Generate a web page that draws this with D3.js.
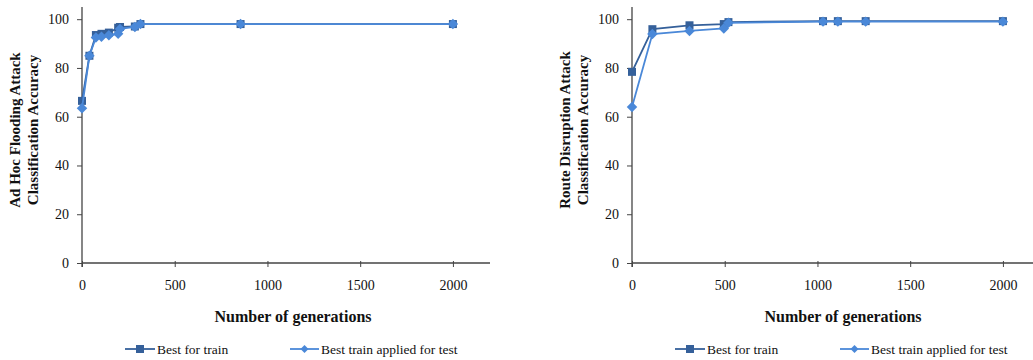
<!DOCTYPE html>
<html>
<head>
<meta charset="utf-8">
<script src="https://cdn.jsdelivr.net/npm/d3@7"></script>
<style>
  html, body { margin: 0; padding: 0; background: #fff; }
  svg { display: block; }
</style>
</head>
<body>
<svg id="chart" width="1033" height="360"></svg>
<script>
// Ad hoc flooding attack: accuracy vs. number of generations
const floodGenerations = [0, 40, 75, 105, 145, 195, 205, 285, 315, 855, 2000];
const floodTrain       = [66.5, 85, 93.5, 94, 94.5, 96.5, 96.8, 97, 98, 98, 98];
const floodTest        = [63.5, 85, 92.5, 92.8, 93.4, 94, 96, 96.8, 98, 98, 98];

// Route disruption attack: accuracy vs. number of generations
const routeGenerations = [0, 110, 310, 495, 520, 1030, 1110, 1260, 2000];
const routeTrain       = [78.4, 95.9, 97.5, 98, 98.8, 99.2, 99.2, 99.2, 99.2];
const routeTest        = [64, 93.9, 95.2, 96.2, 98.5, 99, 99, 99, 99];

const xTicks = [0, 500, 1000, 1500, 2000];
const yTicks = [0, 20, 40, 60, 80, 100];
const seriesNames = ["Best for train", "Best train applied for test"];

const trainColor = "#35609a";
const testColor = "#4a88d8";
const axisColor = "#444";

const svg = d3.select("#chart");

// pick the first installed serif face by comparing rendered widths
function pickSerif() {
  const candidates = ["Liberation Serif", "Times New Roman", "Tinos", "Times", "DejaVu Serif", "Noto Serif"];
  const probe = svg.append("text").attr("font-size", 40).text("mmmwwwiiilllQQ0123");
  const width = f => { probe.attr("font-family", f); return probe.node().getComputedTextLength(); };
  const baseMono = width("monospace"), baseSans = width("sans-serif");
  let found = null;
  for (const c of candidates) {
    if (width(`"${c}", monospace`) !== baseMono || width(`"${c}", sans-serif`) !== baseSans) { found = c; break; }
  }
  probe.remove();
  return found ? `"${found}", serif` : "serif";
}
const serif = pickSerif();

function drawPanel(offsetX, titleLines, gens, train, test) {
  const left = 82 + offsetX, right = 490 + offsetX;
  const top = 7, bottom = 263;
  const g = svg.append("g").attr("font-family", serif).attr("fill", "#111");

  const x = d3.scaleLinear().domain([0, 2200]).range([left, right]);
  const y = d3.scaleLinear().domain([0, 105]).range([bottom, top]);

  // x axis
  const xAxis = g.append("g")
    .attr("transform", `translate(0,${bottom})`)
    .call(d3.axisBottom(x).tickValues(xTicks).tickSize(4).tickPadding(13).tickFormat(d3.format("d")));
  xAxis.attr("font-family", serif).attr("font-size", 14);
  xAxis.select(".domain").attr("stroke", axisColor).attr("stroke-width", 1.3)
    .attr("d", `M${left},0H${right}`);
  xAxis.selectAll(".tick line").attr("stroke", axisColor).attr("y1", -2).attr("y2", 4);
  xAxis.selectAll(".tick text").attr("fill", "#111");

  // y axis
  const yAxis = g.append("g")
    .attr("transform", `translate(${left},0)`)
    .call(d3.axisLeft(y).tickValues(yTicks).tickSize(5).tickPadding(8));
  yAxis.attr("font-family", serif).attr("font-size", 14);
  yAxis.select(".domain").attr("stroke", axisColor).attr("stroke-width", 1.3)
    .attr("d", `M0,${top}V${bottom + 4}`);
  yAxis.selectAll(".tick line").attr("stroke", axisColor);
  yAxis.selectAll(".tick text").attr("fill", "#111");

  // y title (two lines, rotated)
  const yt = g.append("text")
    .attr("transform", `translate(${20 + offsetX},${130}) rotate(-90)`)
    .attr("text-anchor", "middle")
    .attr("font-size", 15).attr("font-weight", "bold");
  yt.append("tspan").attr("x", 0).attr("dy", 0).text(titleLines[0]);
  yt.append("tspan").attr("x", 0).attr("dy", 18).text(titleLines[1]);

  // x title
  g.append("text")
    .attr("x", (left + right) / 2 + 7).attr("y", 322)
    .attr("text-anchor", "middle")
    .attr("font-size", 16).attr("font-weight", "bold")
    .text("Number of generations");

  const line = d3.line().x(d => x(d[0])).y(d => y(d[1]));
  const trainPts = gens.map((v, i) => [v, train[i]]);
  const testPts = gens.map((v, i) => [v, test[i]]);

  // training series: squares
  g.append("path").attr("d", line(trainPts)).attr("fill", "none")
    .attr("stroke", trainColor).attr("stroke-width", 1.8);
  g.selectAll(".sq").data(trainPts).enter().append("rect")
    .attr("x", d => x(d[0]) - 4).attr("y", d => y(d[1]) - 4)
    .attr("width", 8).attr("height", 8).attr("fill", trainColor);

  // test series: diamonds
  g.append("path").attr("d", line(testPts)).attr("fill", "none")
    .attr("stroke", testColor).attr("stroke-width", 1.8);
  const diamond = d3.symbol().type(d3.symbolDiamond2).size(70);
  g.selectAll(".dm").data(testPts).enter().append("path")
    .attr("d", diamond)
    .attr("transform", d => `translate(${x(d[0])},${y(d[1])})`)
    .attr("fill", testColor);

  // legend
  const ly = 349;
  const legend = g.append("g");
  const l1 = 125 + offsetX, l2 = 290 + offsetX;
  legend.append("line").attr("x1", l1).attr("x2", l1 + 30).attr("y1", ly).attr("y2", ly)
    .attr("stroke", trainColor).attr("stroke-width", 1.8);
  legend.append("rect").attr("x", l1 + 11).attr("y", ly - 4).attr("width", 8).attr("height", 8).attr("fill", trainColor);
  legend.append("text").attr("x", l1 + 32).attr("y", ly + 4.5).attr("font-size", 13.5).text(seriesNames[0]);

  legend.append("line").attr("x1", l2).attr("x2", l2 + 29).attr("y1", ly).attr("y2", ly)
    .attr("stroke", testColor).attr("stroke-width", 1.8);
  legend.append("path").attr("d", d3.symbol().type(d3.symbolDiamond2).size(40))
    .attr("transform", `translate(${l2 + 14.5},${ly})`).attr("fill", testColor);
  legend.append("text").attr("x", l2 + 31).attr("y", ly + 4.5).attr("font-size", 13.5).text(seriesNames[1]);
}

drawPanel(0, ["Ad Hoc Flooding Attack", "Classification Accuracy"], floodGenerations, floodTrain, floodTest);
drawPanel(550, ["Route Disruption Attack", "Classification Accuracy"], routeGenerations, routeTrain, routeTest);
</script>
</body>
</html>
